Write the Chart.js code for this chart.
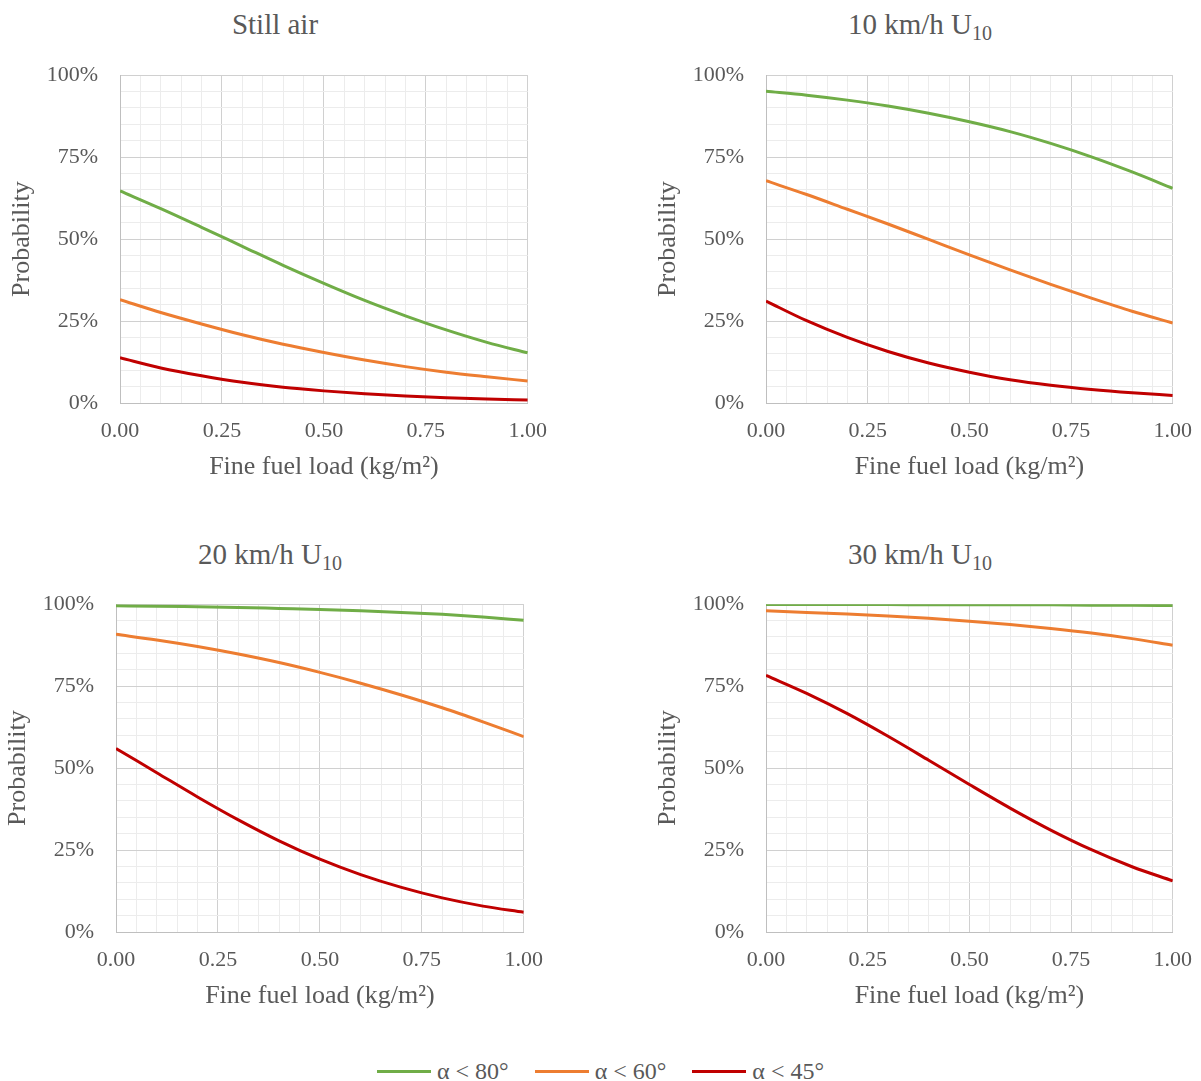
<!DOCTYPE html>
<html>
<head>
<meta charset="utf-8">
<script src="https://cdn.jsdelivr.net/npm/chart.js@4.4.1/dist/chart.umd.min.js"></script>
<style>
  html, body { margin: 0; padding: 0; background: #fff; overflow: hidden; }
  body { width: 1201px; height: 1081px; position: relative; font-family: "Liberation Serif", "Times New Roman", serif; color: #595959; }
  canvas { position: absolute; }
  .title { position: absolute; width: 400px; text-align: center; font-size: 29px; line-height: 34px; }
  .title sub { font-size: 20px; vertical-align: -6px; line-height: 0; }
  #legend { position: absolute; left: 0; top: 1058px; width: 1201px; height: 26px; display: flex; justify-content: center; align-items: center; font-size: 24px; }
  #legend .item { display: flex; align-items: center; margin: 0 13px; }
  #legend .swatch { width: 54px; height: 3px; margin-right: 6px; }
</style>
</head>
<body>
<div class="title" style="left:75px; top:7px;">Still air</div>
<div class="title" style="left:720px; top:7px;">10 km/h U<sub>10</sub></div>
<div class="title" style="left:70px; top:537px;">20 km/h U<sub>10</sub></div>
<div class="title" style="left:720px; top:537px;">30 km/h U<sub>10</sub></div>

<canvas id="c1"></canvas>
<canvas id="c2"></canvas>
<canvas id="c3"></canvas>
<canvas id="c4"></canvas>

<div id="legend"></div>

<script>
// fine fuel load, kg/m2
const loads = [0, 0.1, 0.2, 0.3, 0.4, 0.5, 0.6, 0.7, 0.8, 0.9, 1.0];

// probability (%) per panel and angle threshold
const stillAir80 = [64.7, 59.3, 53.6, 47.8, 42.0, 36.5, 31.3, 26.6, 22.3, 18.5, 15.3];
const stillAir60 = [31.5, 27.6, 24.1, 20.8, 17.9, 15.4, 13.1, 11.1, 9.4, 8.0, 6.7];
const stillAir45 = [13.8, 10.7, 8.3, 6.3, 4.8, 3.7, 2.8, 2.1, 1.6, 1.2, 0.9];

const wind10_80 = [95.1, 93.9, 92.4, 90.6, 88.4, 85.8, 82.8, 79.2, 75.1, 70.5, 65.5];
const wind10_60 = [67.8, 63.6, 59.1, 54.6, 49.9, 45.2, 40.6, 36.2, 32.0, 28.0, 24.4];
const wind10_45 = [31.1, 25.1, 20.0, 15.7, 12.2, 9.4, 7.1, 5.4, 4.1, 3.1, 2.3];

const wind20_80 = [99.5, 99.4, 99.2, 99.0, 98.7, 98.4, 98.0, 97.5, 96.9, 96.1, 95.1];
const wind20_60 = [90.8, 89.1, 87.1, 84.8, 82.2, 79.2, 75.9, 72.3, 68.4, 64.1, 59.6];
const wind20_45 = [56.0, 48.6, 41.2, 34.2, 27.8, 22.2, 17.5, 13.6, 10.4, 7.9, 6.0];

const wind30_80 = [99.9, 99.9, 99.9, 99.9, 99.8, 99.8, 99.8, 99.8, 99.7, 99.7, 99.6];
const wind30_60 = [98.0, 97.5, 97.0, 96.4, 95.7, 94.8, 93.8, 92.6, 91.2, 89.5, 87.5];
const wind30_45 = [78.3, 72.8, 66.6, 59.7, 52.4, 45.0, 37.8, 31.1, 25.1, 19.9, 15.6];

const seriesNames = ['α < 80°', 'α < 60°', 'α < 45°'];
const seriesColors = ['#70ad47', '#ed7d31', '#c00000'];

const xTickValues = [0, 0.25, 0.5, 0.75, 1];
const yTickValues = [0, 25, 50, 75, 100];

const GRID_MAJOR = '#d0d0d0';
const GRID_MINOR = '#ececec';
const TEXT = '#595959';
const FONT = '"Liberation Serif", "Times New Roman", serif';

function isMajorX(v) { return xTickValues.some(t => Math.abs(t - v) < 1e-6); }
function isMajorY(v) { return yTickValues.some(t => Math.abs(t - v) < 1e-6); }

function makePanel(id, plot, series) {
  // chart.js keeps ~34px above and ~35px right of the plot for overflowing labels
  const padL = 3, yW = 117, xH = 84, padB = 6;
  const offT = 34, offR = 35;
  const canvas = document.getElementById(id);
  const w = plot.w + padL + yW + offR;
  const h = plot.h + offT + xH + padB;
  canvas.width = w;
  canvas.height = h;
  canvas.style.left = (plot.left - padL - yW) + 'px';
  canvas.style.top = (plot.top - offT) + 'px';
  canvas.style.width = w + 'px';
  canvas.style.height = h + 'px';

  new Chart(canvas, {
    type: 'line',
    data: {
      datasets: series.map((vals, i) => ({
        label: seriesNames[i],
        data: loads.map((x, k) => ({ x: x, y: vals[k] })),
        borderColor: seriesColors[i],
        borderWidth: 3,
        pointRadius: 0,
        fill: false,
        cubicInterpolationMode: 'monotone'
      }))
    },
    options: {
      responsive: false,
      animation: false,
      layout: { padding: { left: padL, top: 0, right: 0, bottom: padB } },
      plugins: { legend: { display: false }, tooltip: { enabled: false } },
      scales: {
        x: {
          type: 'linear',
          min: 0,
          max: 1,
          afterFit: s => { s.height = xH; },
          border: { color: '#bfbfbf', width: 1 },
          grid: {
            drawTicks: false,
            color: ctx => isMajorX(ctx.tick.value) ? GRID_MAJOR : GRID_MINOR
          },
          ticks: {
            stepSize: 0.05,
            maxTicksLimit: 21,
            autoSkip: false,
            maxRotation: 0,
            padding: 15,
            color: TEXT,
            font: { family: FONT, size: 22 },
            callback: v => isMajorX(v) ? v.toFixed(2) : ''
          },
          title: {
            display: true,
            text: 'Fine fuel load (kg/m²)',
            color: TEXT,
            font: { family: FONT, size: 26 }
          }
        },
        y: {
          min: 0,
          max: 100,
          afterFit: s => { s.width = yW; },
          border: { color: '#bfbfbf', width: 1 },
          grid: {
            drawTicks: false,
            color: ctx => isMajorY(ctx.tick.value) ? GRID_MAJOR : GRID_MINOR
          },
          ticks: {
            stepSize: 5,
            maxTicksLimit: 21,
            autoSkip: false,
            padding: 22,
            color: TEXT,
            font: { family: FONT, size: 22 },
            callback: v => isMajorY(v) ? v + '%' : ''
          },
          title: {
            display: true,
            text: 'Probability',
            color: TEXT,
            font: { family: FONT, size: 26 }
          }
        }
      }
    }
  });
}

makePanel('c1', { left: 120, top: 74, w: 407, h: 329 }, [stillAir80, stillAir60, stillAir45]);
makePanel('c2', { left: 766, top: 74, w: 406, h: 329 }, [wind10_80, wind10_60, wind10_45]);
makePanel('c3', { left: 116, top: 603, w: 407, h: 329 }, [wind20_80, wind20_60, wind20_45]);
makePanel('c4', { left: 766, top: 603, w: 406, h: 329 }, [wind30_80, wind30_60, wind30_45]);

// shared legend at the bottom
const legend = document.getElementById('legend');
seriesNames.forEach((name, i) => {
  const item = document.createElement('div');
  item.className = 'item';
  const sw = document.createElement('span');
  sw.className = 'swatch';
  sw.style.background = seriesColors[i];
  const label = document.createElement('span');
  label.textContent = name;
  item.appendChild(sw);
  item.appendChild(label);
  legend.appendChild(item);
});
</script>
</body>
</html>
